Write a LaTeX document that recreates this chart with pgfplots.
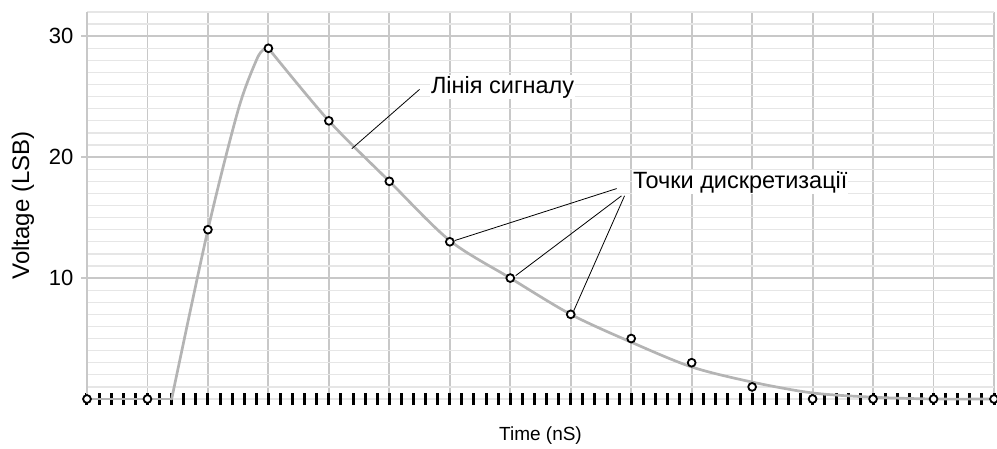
\documentclass[border=0pt]{standalone}
\usepackage{fontspec}
\setmainfont{Liberation Sans}
\usepackage{pgfplots}
\pgfplotsset{compat=1.18}
\definecolor{gridmaj}{HTML}{C8C8C8}
\definecolor{gridmin}{HTML}{E6E6E6}
\definecolor{signal}{HTML}{B4B4B4}

\begin{document}
\begin{tikzpicture}
\begin{axis}[
  scale only axis, width=907pt, height=387pt,
  xmin=0, xmax=15, ymin=0, ymax=32,
  clip=false,
  axis x line=bottom, axis y line=left,
  axis line style={-},
  x axis line style={draw=none},
  y axis line style={draw=gridmaj, line width=2.6pt},
  xtick={0,...,15}, xticklabels={}, minor x tick num=4,
  ytick={10,20,30}, minor ytick={0,...,32},
  tick align=center, major tick length=12pt, minor tick length=12pt,
  tick style={black, line width=3pt},
  minor tick style={black, line width=3pt},
  major y tick style={gridmaj, line width=2pt},
  minor y tick style={draw=none},
  xmajorgrids, ymajorgrids, yminorgrids,
  major grid style={gridmaj, line width=1.8pt},
  minor grid style={gridmin, line width=1.3pt},
  /pgf/number format/assume math mode=true,
  yticklabel style={font=\fontsize{22}{26}\selectfont, xshift=-4pt},
  xlabel={Time (nS)},
  xlabel style={font=\fontsize{19}{22}\selectfont, at={([yshift=-37pt]axis description cs:0.5,0)}, anchor=center},
  ylabel={Voltage (LSB)},
  ylabel style={font=\fontsize{24}{28}\selectfont, at={([xshift=-64pt]axis description cs:0,0.5)}, anchor=center},
]
% signal line
\addplot[signal, line width=2.7pt, line cap=round] coordinates {(0,0) (1.4,0)};
\addplot[signal, line width=2.7pt, line cap=round, smooth, tension=0.5] coordinates {
  (1.4,0) (2,14) (2.5,23.9) (2.8,28.0) (2.92,28.9) (3,29)};
\addplot[signal, line width=2.7pt, line cap=round, smooth, tension=0.5] coordinates {
  (3,29) (4,23) (5,18) (6,13.1) (7,10) (8,7) (9,4.7) (10,2.65) (11,1.4) (12,0.5) (13,0.15) (14,0) (15,0)};
% sampling points
\addplot[only marks, mark=*, mark size=3.9pt, mark options={fill=white, draw=black, line width=1.8pt}] coordinates {
  (0,0) (1,0) (2,14) (3,29) (4,23) (5,18) (6,13) (7,10) (8,7) (9,5) (10,3) (11,1) (12,0) (13,0) (14,0) (15,0)};

\coordinate (O) at (rel axis cs:0,0);
% annotations
\draw[black, line width=0.8pt] (axis cs:4.38,20.7) -- (axis cs:5.50,25.6);
\node[anchor=base west, fill=white, inner sep=1pt, font=\fontsize{23.5}{27}\selectfont] at (axis cs:5.67,25.29) {Лінія сигналу};
\draw[black, line width=0.8pt] (axis cs:6.08,13.1) -- (axis cs:8.76,17.4);
\draw[black, line width=0.8pt] (axis cs:7.09,10.2) -- (axis cs:8.84,16.8);
\draw[black, line width=0.8pt] (axis cs:8.05,7.3) -- (axis cs:8.89,16.8);
\node[anchor=base west, fill=white, inner sep=1pt, font=\fontsize{23.5}{27}\selectfont] at (axis cs:9.01,17.44) {Точки дискретизації};
\end{axis}
\pgfresetboundingbox
\path ([shift={(-87pt,-49pt)}]O) rectangle ([shift={(910pt,399pt)}]O);
\end{tikzpicture}
\end{document}
